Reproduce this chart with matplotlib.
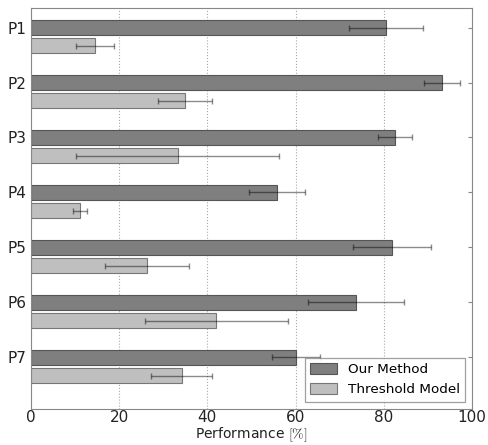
import numpy as np
import matplotlib
matplotlib.use('Agg')
import matplotlib.pyplot as plt

plt.rcParams['mathtext.fontset'] = 'cm'

# Data
labels = ['P1', 'P2', 'P3', 'P4', 'P5', 'P6', 'P7']
ours = [80.5, 93.2, 82.5, 55.8, 81.9, 73.7, 60.1]
ours_err = [8.3, 4.0, 3.9, 6.3, 8.8, 10.8, 5.5]
thresh = [14.5, 34.9, 33.3, 11.1, 26.3, 42.0, 34.2]
thresh_err = [4.4, 6.1, 23.0, 1.5, 9.5, 16.2, 6.9]

ind = np.arange(len(labels))
h = 0.28

fig = plt.figure(figsize=(4.88, 4.45), dpi=100)
ax = fig.add_axes([0.0635, 0.082, 0.9035, 0.90])

err_kw = dict(ecolor=(0, 0, 0, 0.45), capsize=2.5, elinewidth=1.0, capthick=1.0)
ax.barh(ind, ours, height=h, xerr=ours_err, color='#7f7f7f',
        edgecolor='#555555', linewidth=0.8, error_kw=err_kw, label='Our Method')
ax.barh(ind + 0.33, thresh, height=h, xerr=thresh_err, color='#bfbfbf',
        edgecolor='#777777', linewidth=0.8, error_kw=err_kw, label='Threshold Model')

ax.set_yticks(ind)
ax.set_yticklabels(labels)
ax.set_xlim(0, 100)
ax.set_ylim(6.93, -0.355)
ax.set_xticks([0, 20, 40, 60, 80, 100])
ax.xaxis.grid(True, linestyle=':', color='#aaaaaa', linewidth=0.8)
ax.set_axisbelow(True)

for s in ax.spines.values():
    s.set_color('#888888')
ax.tick_params(axis='both', labelsize=11, colors='#888888', labelcolor='#222222',
               direction='in', length=3)
ax.tick_params(axis='y', right=True, pad=3)
ax.tick_params(axis='x', length=0, pad=1)

ax.set_xlabel(r'Performance $[\%]$', fontsize=10, color='#222222')
ax.xaxis.label.set_va('bottom')
ax.xaxis.set_label_coords(0.5, -0.088)

leg = ax.legend(loc='lower right', fontsize=9.7, fancybox=False, borderaxespad=0.5,
                handlelength=2.0, handleheight=0.9, labelspacing=0.5,
                handletextpad=0.8, borderpad=0.4)
leg.get_frame().set_edgecolor('#888888')
leg.get_frame().set_linewidth(0.9)

plt.savefig('out.png', dpi=100)
